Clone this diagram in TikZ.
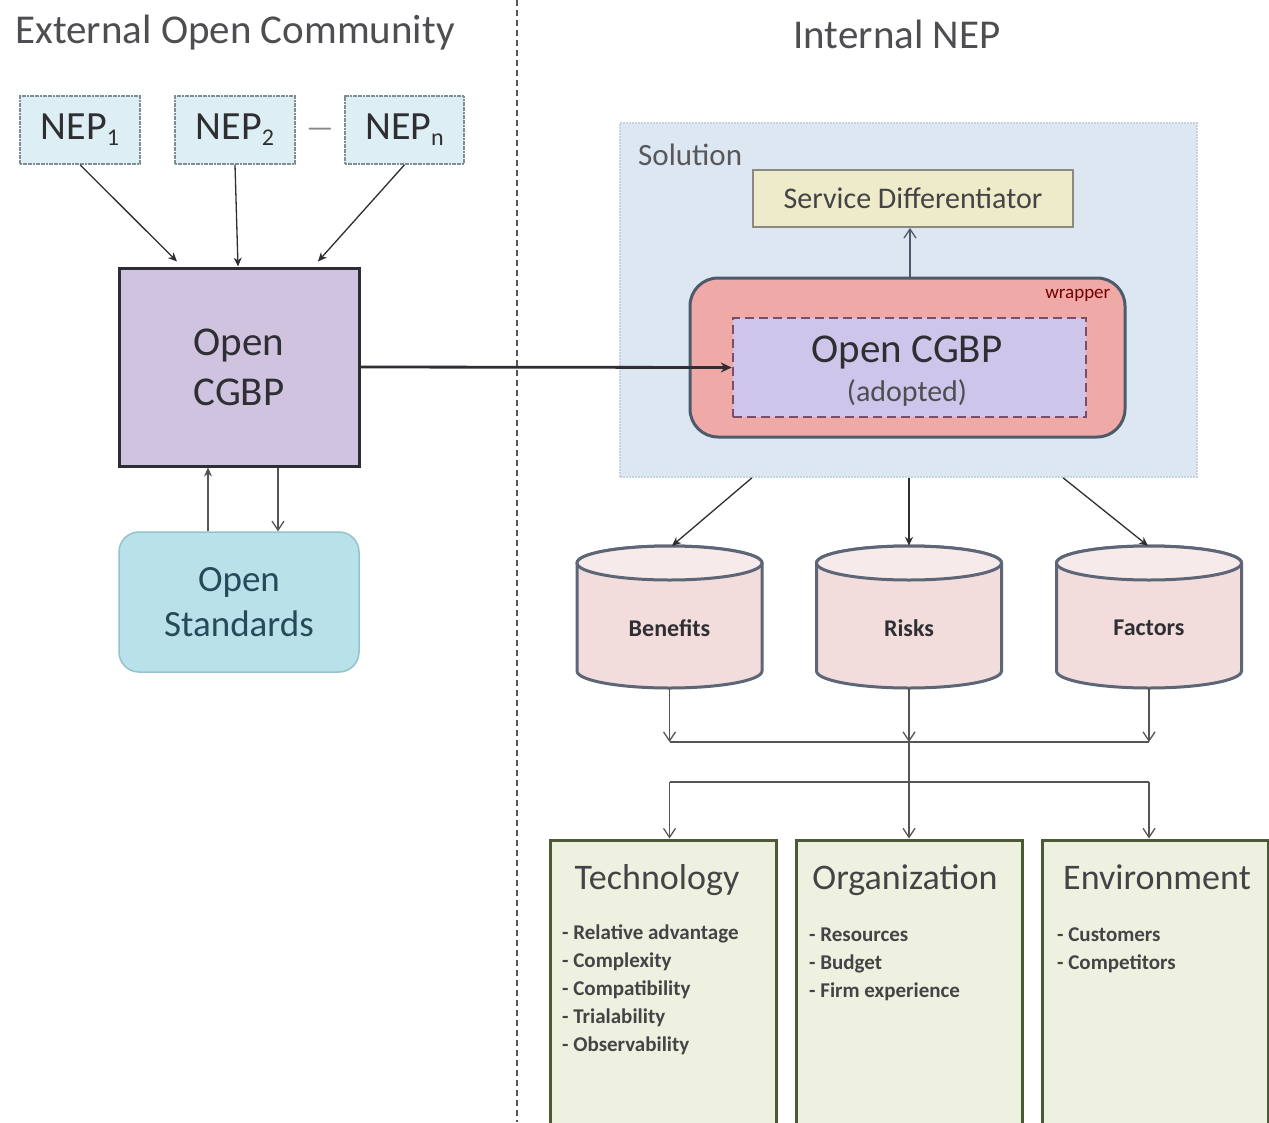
\documentclass[tikz,border=0pt]{standalone}
\usepackage{fontspec}
\setmainfont{Carlito}
\usetikzlibrary{arrows.meta,calc}
\definecolor{txt}{HTML}{2F2F33}
\definecolor{nepfill}{HTML}{DDEEF4}
\definecolor{nepline}{HTML}{7D8F95}
\definecolor{cgbpfill}{HTML}{CFC3E0}
\definecolor{cgbpline}{HTML}{2D2D35}
\definecolor{osfill}{HTML}{B9E1E9}
\definecolor{osline}{HTML}{93C3CC}
\definecolor{ostxt}{HTML}{264A5A}
\definecolor{solfill}{HTML}{DCE7F1}
\definecolor{solline}{HTML}{C4D3E0}
\definecolor{sdfill}{HTML}{EDEBC9}
\definecolor{sdline}{HTML}{8A8A80}
\definecolor{wrfill}{HTML}{EFAAA8}
\definecolor{wrline}{HTML}{4D5A6B}
\definecolor{infill}{HTML}{CEC5EA}
\definecolor{inline}{HTML}{7B4C6C}
\definecolor{cylfill}{HTML}{F2DCDC}
\definecolor{cyltopfill}{HTML}{F6EAEA}
\definecolor{cylline}{HTML}{5D6676}
\definecolor{boxfill}{HTML}{EEF1E0}
\definecolor{boxline}{HTML}{4B5A34}
\definecolor{conn}{HTML}{555555}
\tikzset{
  x=1pt,y=1pt,
  title/.style={font=\fontsize{41}{46}\selectfont, text=txt!85},
  nepbox/.style={draw=nepline, fill=nepfill, line width=1.5pt, dash pattern=on 2pt off 0.6pt, minimum width=120, minimum height=68, inner sep=0, font=\fontsize{40}{46}\selectfont, text=txt},
  cgbpbox/.style={draw=cgbpline, fill=cgbpfill, line width=3pt, minimum width=240, minimum height=198, inner sep=0, align=center, font=\fontsize{41}{50}\selectfont, text=txt},
  osbox/.style={draw=osline, fill=osfill, line width=1.5pt, rounded corners=20, minimum width=240, minimum height=140, inner sep=0, align=center, font=\fontsize{37}{45}\selectfont, text=ostxt},
  solbox/.style={draw=solline, fill=solfill, line width=1.5pt, dash pattern=on 2pt off 1pt, minimum width=577, minimum height=354, inner sep=0},
  sdbox/.style={draw=sdline, fill=sdfill, line width=1.8pt, minimum width=320, minimum height=57, inner sep=0, font=\fontsize{30}{36}\selectfont, text=txt!90},
  wrbox/.style={draw=wrline, fill=wrfill, line width=3pt, rounded corners=28, minimum width=435, minimum height=159, inner sep=0},
  inbox/.style={draw=inline, fill=infill, line width=2.5pt, dash pattern=on 9pt off 5pt, minimum width=353, minimum height=99, inner sep=0},
  cylnode/.style={minimum width=185, minimum height=142, inner sep=0},
  cyltext/.style={font=\bfseries\fontsize{24}{28}\selectfont, text=txt, inner sep=0},
  cylbody/.style={fill=cylfill, draw=cylline, line width=3pt},
  cyltop/.style={fill=cyltopfill, draw=cylline, line width=3pt},
  tbox/.style={draw=boxline, fill=boxfill, line width=3pt, minimum width=226, minimum height=290, inner sep=0},
  thead/.style={font=\fontsize{36}{42}\selectfont, text=txt!90, anchor=base, inner sep=0},
  tlist/.style={font=\bfseries\fontsize{21}{28}\selectfont, text=txt!90, align=left, inner sep=0, anchor=north west},
  arrf/.style={draw=txt, line width=1.3pt, -{Stealth[length=9pt,width=8pt]}},
  arro/.style={draw=conn, line width=1.3pt, -{Straight Barb[length=9pt,width=12pt]}},
  plain/.style={draw=conn, line width=1.3pt},
}
\newcommand\mycyl[2]{%
  \filldraw[cylbody] (#1-92.5,#2+54) -- (#1-92.5,#2-54) arc[start angle=180,end angle=360,x radius=92.5,y radius=17] -- (#1+92.5,#2+54) arc[start angle=0,end angle=180,x radius=92.5,y radius=17] -- cycle;
  \filldraw[cyltop] (#1,#2+54) ellipse[x radius=92.5,y radius=17];
}
\begin{document}
\begin{tikzpicture}
\useasboundingbox (0,0) rectangle (1269,-1122);
\fill[white] (0,0) rectangle (1269,-1122);

% divider
\draw[conn, line width=1.3pt, dash pattern=on 6pt off 4pt] (517,0) -- (517,-1122);

% titles
\node[title] (t1) at (235,-33) {External Open Community};
\node[title] (t2) at (897,-34) {Internal NEP};

% left side
\node[nepbox] (nep1) at (80,-130) {NEP\raisebox{-6pt}{\fontsize{24}{28}\selectfont 1}};
\node[nepbox] (nep2) at (235,-130) {NEP\raisebox{-6pt}{\fontsize{24}{28}\selectfont 2}};
\node[nepbox, minimum width=119] (nepn) at (404.5,-130) {NEP\raisebox{-6pt}{\fontsize{24}{28}\selectfont n}};
\node[font=\fontsize{30}{36}\selectfont, text=conn!70, inner sep=0] (dots) at (320,-133) {—};

\node[cgbpbox] (cgbp) at (239,-367) {Open\\CGBP};
\node[osbox] (os) at (239,-602) {Open\\Standards};

\draw[arrf] (nep1.south) -- ($(cgbp.north)+(-62,5)$);
\draw[arrf] (nep2.south) -- ($(cgbp.north)+(-1,0)$);
\draw[arrf] (nepn.south) -- ($(cgbp.north)+(79,5)$);

\draw[arrf, draw=conn] ($(os.north)+(-31,0)$) -- ($(cgbp.south)+(-31,0)$);
\draw[arro] ($(cgbp.south)+(39,0)$) -- ($(os.north)+(39,0)$);

% right side: solution
\node[solbox] (sol) at (908.5,-300) {};
\node[anchor=west, font=\fontsize{31}{36}\selectfont, text=txt!80, inner sep=0] (sollab) at (638,-155) {Solution};
\node[sdbox] (sd) at (913,-198.5) {Service Differentiator};
\node[wrbox] (wr) at (907.5,-357.5) {};
\node[anchor=north east, font=\fontsize{19}{22}\selectfont, text=red!45!black, inner sep=0] (wrlab) at ($(wr.north east)+(-16,-13)$) {wrapper};
\node[inbox] (in) at (909.5,-367.5) {};
\node[font=\fontsize{41}{46}\selectfont, text=txt, inner sep=0] (inl1) at (907,-352) {Open CGBP};
\node[font=\fontsize{30}{34}\selectfont, text=txt!85, inner sep=0] (inl2) at (907,-393) {(adopted)};

\draw[arro, draw=wrline] ($(wr.north)+(2.5,0)$) -- ($(sd.south)+(-3,0)$);
\draw[line width=2.8pt, draw=txt, -{Stealth[length=11pt,width=10pt]}] (cgbp.east) -- (in.west);

% cylinders
\mycyl{669.5}{-617}
\mycyl{909}{-617}
\mycyl{1149}{-617}
\node[cylnode] (ben) at (669.5,-617) {};
\node[cylnode] (risk) at (909,-617) {};
\node[cylnode] (fac) at (1149,-617) {};
\node[cyltext] (benl) at (669.5,-628) {Benefits};
\node[cyltext] (riskl) at (909,-628) {Risks};
\node[cyltext] (facl) at (1149,-628) {Factors};

\draw[arrf] ($(sol.south)+(-156.5,0)$) -- ($(ben.north)+(2.5,0)$);
\draw[arrf] ($(sol.south)+(0.5,0)$) -- (risk.north);
\draw[arrf] ($(sol.south)+(154.5,0)$) -- ($(fac.north)+(-1,0)$);

% bottom boxes
\node[tbox] (tech) at (663,-985) {};
\node[tbox] (org) at (909,-985) {};
\node[tbox] (env) at (1155,-985) {};
\node[thead] (techh) at (657,-889) {Technology};
\node[thead] (orgh) at (905,-889) {Organization};
\node[thead] (envh) at (1157,-889) {Environment};
\node[tlist] (techl) at (562,-925) {- Relative advantage\\- Complexity\\- Compatibility\\- Trialability\\- Observability};
\node[tlist] (orgl) at (809,-928) {- Resources\\- Budget\\- Firm experience};
\node[tlist] (envl) at (1057,-928) {- Customers\\- Competitors};

% connectors between cylinders and boxes
\coordinate (h1) at (0,-742);
\coordinate (h2) at (0,-782);
\draw[arro] (ben.south) -- (ben.south |- h1);
\draw[arro] (risk.south) -- (risk.south |- h1);
\draw[arro] (fac.south) -- (fac.south |- h1);
\draw[plain] (ben.south |- h1) -- (fac.south |- h1);
\draw[arro] (risk.south |- h1) -- (risk.south |- tech.north);
\draw[plain] (ben.south |- h2) -- (fac.south |- h2);
\draw[arro] (ben.south |- h2) -- (ben.south |- tech.north);
\draw[arro] (fac.south |- h2) -- (fac.south |- env.north);
\end{tikzpicture}
\end{document}
